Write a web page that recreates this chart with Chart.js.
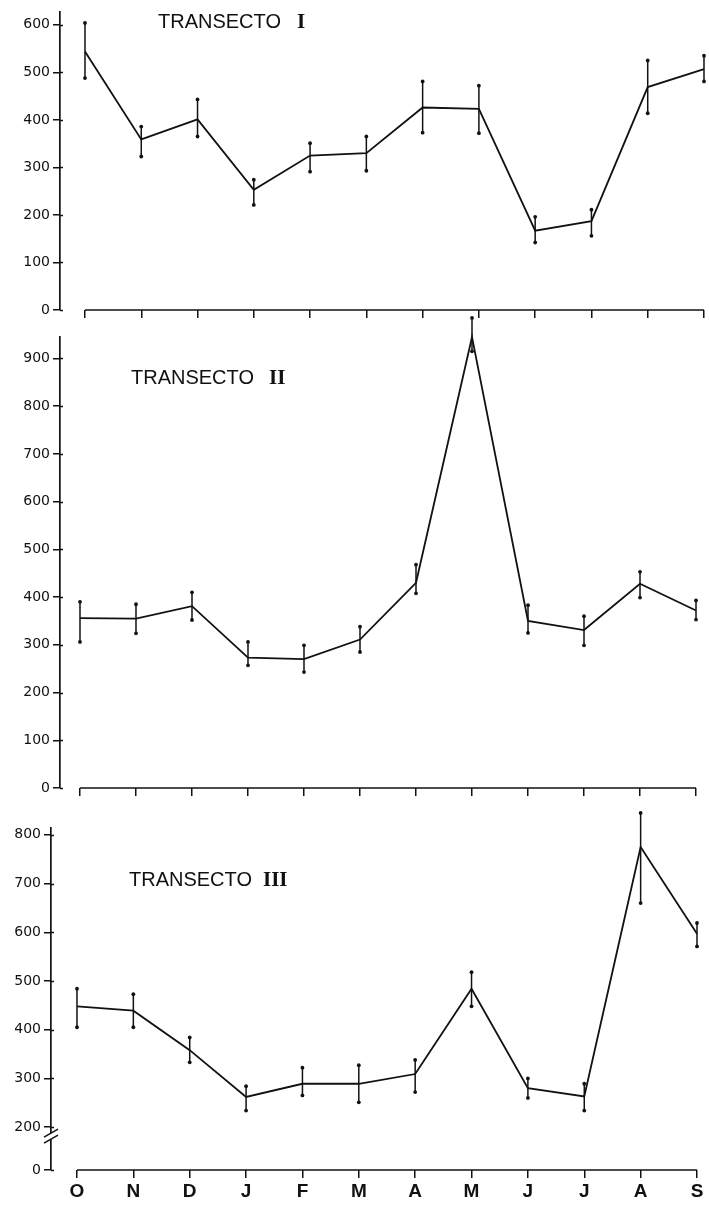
<!DOCTYPE html>
<html>
<head>
<meta charset="utf-8">
<script src="https://cdn.jsdelivr.net/npm/chart.js@4.4.1/dist/chart.umd.min.js"></script>
<style>
html,body{margin:0;padding:0;background:#fff;width:709px;height:1207px;overflow:hidden;position:relative;}
canvas{position:absolute;left:0;}
</style>
</head>
<body>
<canvas id="c1" width="709" height="335" style="top:0px"></canvas>
<canvas id="c2" width="709" height="498" style="top:312px"></canvas>
<canvas id="c3" width="709" height="407" style="top:800px"></canvas>
<script>
// ---- data ----
const months = ['O','N','D','J','F','M','A','M','J','J','A','S'];

const t1Mean  = [544, 359, 401, 253, 325, 330, 426, 423, 167, 187, 469, 507];
const t1Upper = [604, 386, 443, 274, 351, 365, 481, 472, 196, 211, 525, 535];
const t1Lower = [488, 323, 365, 221, 291, 293, 373, 372, 142, 156, 414, 481];

const t2Mean  = [356, 355, 381, 273, 270, 311, 430, 945, 350, 331, 428, 372];
const t2Upper = [390, 385, 410, 306, 299, 338, 468, 985, 383, 360, 453, 393];
const t2Lower = [306, 324, 352, 257, 243, 285, 408, 915, 325, 299, 399, 353];

const t3Mean  = [448, 439, 358, 262, 289, 289, 309, 484, 280, 263, 775, 597];
const t3Upper = [484, 473, 384, 284, 322, 327, 338, 518, 300, 289, 845, 619];
const t3Lower = [405, 405, 333, 234, 265, 251, 272, 448, 260, 234, 660, 571];

const yTicks1 = [0, 100, 200, 300, 400, 500, 600];
const yTicks2 = [0, 100, 200, 300, 400, 500, 600, 700, 800, 900];
const yTicks3 = [200, 300, 400, 500, 600, 700, 800];
const yFloor3 = 112;            // foot of the broken axis, labelled "0"
const yFloorLabel3 = '0';

const titles = ['TRANSECTO', 'TRANSECTO', 'TRANSECTO'];
const numerals = ['I', 'II', 'III'];

// ---- drawing ----
const INK = '#111';

const errBarPlugin = {
  id: 'errbars',
  afterDatasetsDraw(chart, args, o) {
    const {ctx, scales: {x, y}} = chart;
    ctx.save();
    ctx.strokeStyle = INK; ctx.fillStyle = INK; ctx.lineWidth = 1.5;
    for (let i = 0; i < o.upper.length; i++) {
      const px = x.getPixelForValue(i);
      const yh = y.getPixelForValue(o.upper[i]);
      const yl = y.getPixelForValue(o.lower[i]);
      ctx.beginPath(); ctx.moveTo(px, yh); ctx.lineTo(px, yl); ctx.stroke();
      [yh, yl].forEach(py => { ctx.beginPath(); ctx.arc(px, py, 1.9, 0, Math.PI * 2); ctx.fill(); });
    }
    ctx.restore();
  }
};

const baselinePlugin = {
  id: 'baseline',
  afterDraw(chart) {
    const {ctx, chartArea, scales: {x, y}} = chart;
    ctx.save();
    ctx.strokeStyle = INK; ctx.lineWidth = 1.7;
    ctx.beginPath();
    ctx.moveTo(x.getPixelForValue(0), chartArea.bottom);
    ctx.lineTo(x.getPixelForValue(months.length - 1), chartArea.bottom);
    ctx.stroke();
    // y tick marks cross the axis slightly
    ctx.lineWidth = 1.5;
    y.ticks.forEach(t => {
      const py = Math.round(y.getPixelForValue(t.value)) + 0.5;
      ctx.beginPath(); ctx.moveTo(chartArea.left, py); ctx.lineTo(chartArea.left + 3, py); ctx.stroke();
    });
    ctx.restore();
  }
};

const titlePlugin = {
  id: 'panelTitle',
  afterDraw(chart, args, o) {
    const ctx = chart.ctx;
    ctx.save();
    ctx.fillStyle = INK;
    ctx.textBaseline = 'alphabetic';
    ctx.font = '20px "Liberation Sans", Arial, sans-serif';
    ctx.fillText(o.text, o.x, o.y);
    ctx.font = 'bold 21px "Liberation Serif", "DejaVu Serif", serif';
    ctx.fillText(o.numeral, o.nx, o.y);
    ctx.restore();
  }
};

const breakPlugin = {
  id: 'axisBreak',
  afterDraw(chart, args, o) {
    if (!o.enabled) return;
    const {ctx, chartArea, scales: {y}} = chart;
    const lx = chartArea.left;
    const y0 = y.getPixelForValue(o.below) + 6;
    ctx.save();
    ctx.fillStyle = '#fff';
    ctx.fillRect(lx - 3, y0, 6, 6);
    ctx.strokeStyle = INK; ctx.lineWidth = 1.5;
    [y0, y0 + 6].forEach(yy => {
      ctx.beginPath(); ctx.moveTo(lx - 7, yy + 4); ctx.lineTo(lx + 7, yy - 4); ctx.stroke();
    });
    ctx.restore();
  }
};

function makePanel(id, p) {
  const allTicks = p.floor !== undefined ? [p.floor].concat(p.yTicks) : p.yTicks;
  return new Chart(document.getElementById(id), {
    type: 'line',
    data: {
      datasets: [{
        data: p.mean.map((v, i) => ({x: i, y: v})),
        borderColor: INK, borderWidth: 1.8, pointRadius: 0, tension: 0, fill: false, clip: false
      }]
    },
    options: {
      responsive: false, animation: false, devicePixelRatio: 1,
      layout: {padding: {left: 0, right: 0, top: p.padTop, bottom: 0}},
      plugins: {
        legend: {display: false}, tooltip: {enabled: false},
        errbars: {upper: p.upper, lower: p.lower},
        panelTitle: p.title,
        axisBreak: {enabled: p.floor !== undefined, below: p.yTicks[0]}
      },
      scales: {
        x: {
          type: 'linear', min: p.xMin, max: p.xMax,
          afterBuildTicks: s => { s.ticks = months.map((m, i) => ({value: i})); },
          afterFit: s => { s.height = p.xAxisHeight; },
          border: {display: false},
          grid: {drawOnChartArea: false, drawTicks: true, tickLength: 8, color: INK, lineWidth: 1.5},
          ticks: {
            display: p.showX, autoSkip: false, maxRotation: 0, minRotation: 0, padding: 2, color: INK,
            font: {family: "'Liberation Sans', Arial, sans-serif", size: 19, weight: 'bold'},
            callback: v => months[v]
          }
        },
        y: {
          type: 'linear', min: p.yMin, max: p.yMax,
          afterBuildTicks: s => { s.ticks = allTicks.map(v => ({value: v})); },
          afterFit: s => { s.width = p.axisWidth; },
          border: {display: true, color: INK, width: 1.7},
          grid: {drawOnChartArea: false, drawTicks: true, tickLength: 7, color: INK, lineWidth: 1.5},
          ticks: {
            autoSkip: false, padding: 3, color: INK,
            font: {family: "'DejaVu Sans', sans-serif", size: 14},
            callback: v => (p.floor !== undefined && v === p.floor) ? p.floorLabel : String(v)
          }
        }
      }
    },
    plugins: [errBarPlugin, baselinePlugin, titlePlugin, breakPlugin]
  });
}

makePanel('c1', {
  mean: t1Mean, upper: t1Upper, lower: t1Lower, yTicks: yTicks1,
  yMin: 0, yMax: 627, xMin: -0.444, xMax: 11.089,
  axisWidth: 60, padTop: 12, xAxisHeight: 25, showX: false,
  title: {text: titles[0], numeral: numerals[0], x: 158, nx: 297, y: 28}
});
makePanel('c2', {
  mean: t2Mean, upper: t2Upper, lower: t2Lower, yTicks: yTicks2,
  yMin: 0, yMax: 945, xMin: -0.357, xMax: 11.232,
  axisWidth: 60, padTop: 25, xAxisHeight: 22, showX: false,
  title: {text: titles[1], numeral: numerals[1], x: 131, nx: 269, y: 72}
});
makePanel('c3', {
  mean: t3Mean, upper: t3Upper, lower: t3Lower, yTicks: yTicks3,
  floor: yFloor3, floorLabel: yFloorLabel3,
  yMin: yFloor3, yMax: 814, xMin: -0.461, xMax: 11.213,
  axisWidth: 51, padTop: 28, xAxisHeight: 37, showX: true,
  title: {text: titles[2], numeral: numerals[2], x: 129, nx: 263, y: 86}
});
</script>
</body>
</html>
